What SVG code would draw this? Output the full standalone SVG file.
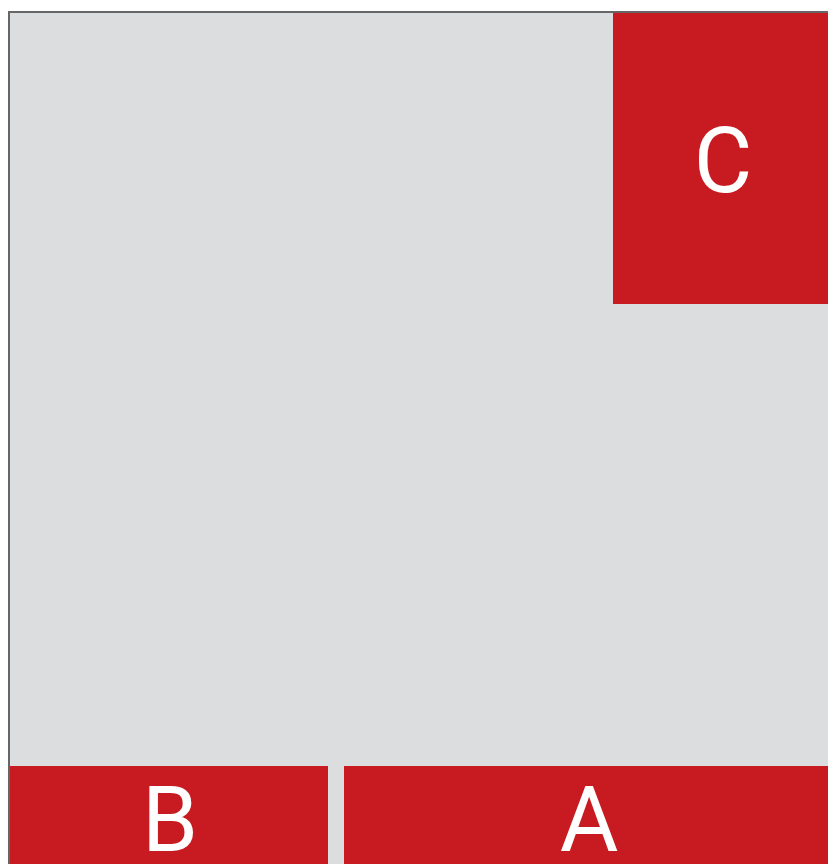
<svg xmlns="http://www.w3.org/2000/svg" width="828" height="864" viewBox="0 0 828 864">
<style>
.blk{fill:#c81b21}
.lbl{fill:#ffffff;font-family:Roboto,"Liberation Sans",sans-serif;font-size:90px;text-anchor:middle}
</style>
<rect x="0" y="0" width="828" height="864" fill="#ffffff"/>
<rect id="frame" x="9" y="12" width="830" height="860" fill="#dcdddf" stroke="#666666" stroke-width="2"/>
<g id="C"><rect class="blk" x="613" y="13" width="215" height="291"/><text class="lbl" x="723" y="192">C</text></g>
<g id="B"><rect class="blk" x="10" y="766" width="318" height="98"/><text class="lbl" x="170" y="851">B</text></g>
<g id="A"><rect class="blk" x="344" y="766" width="484" height="98"/><text class="lbl" x="589" y="851">A</text></g>
<g id="connectors"/>
</svg>
